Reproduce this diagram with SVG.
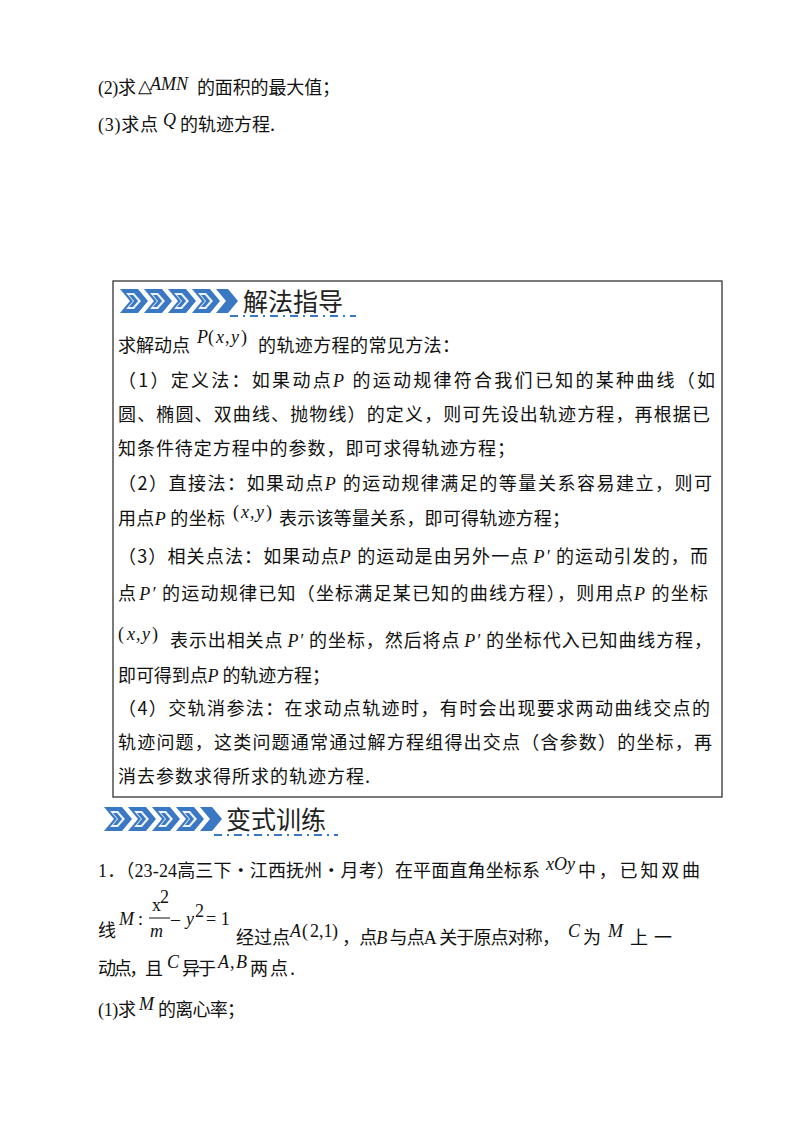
<svg xmlns="http://www.w3.org/2000/svg" width="800" height="1134" viewBox="0 0 800 1134">
<style>
.t{font-family:"Noto Sans CJK SC",sans-serif;font-size:18px;fill:#111}
.m{font-family:"Liberation Serif",serif;font-style:italic;font-size:18px;fill:#111}
.r{font-family:"Liberation Serif",serif;font-size:18px;fill:#111}
.h{font-family:"Noto Sans CJK SC",sans-serif;font-size:25px;fill:#222}
.ch{fill:#3a78c4}
.dash{stroke:#3a78c4;stroke-width:2;stroke-dasharray:8 5 2 5}
</style>
<defs>
<g id="chev">
<polygon class="ch" points="0,0 18,0 28,12 18,24 0,24 10,12"/>
<polygon fill="#fff" points="6,4 14,4 21,12 14,20 6,20 13,12" opacity="0.9"/>
<polygon class="ch" points="9,6 13,6 18,12 13,18 9,18 14,12"/>
</g>
<g id="banner">
<use href="#chev" x="0"/><use href="#chev" x="24"/><use href="#chev" x="48"/><use href="#chev" x="72"/>
<polygon class="ch" points="96,0 108,0 118,12 108,24 96,24 106,12"/>
</g>
</defs>
<rect width="800" height="1134" fill="#fff"/>

<text class="t" x="98" y="94" textLength="38"><tspan class="r">(2)</tspan>求</text>
<text class="r" x="138" y="92" font-size="10">△</text>
<text class="m" x="150" y="90">AMN</text>
<text class="t" x="197" y="94" textLength="143">的面积的最大值；</text>
<text class="t" x="98" y="131" textLength="60"><tspan class="r">(3)</tspan>求点</text>
<text class="m" x="163" y="126">Q</text>
<text class="t" x="180" y="131" textLength="95">的轨迹方程.</text>

<rect x="113" y="281" width="609" height="516" fill="none" stroke="#333" stroke-width="1.3"/>
<use href="#banner" x="120" y="289"/>
<text class="h" x="243" y="311">解法指导</text>
<line class="dash" x1="230" y1="316" x2="356" y2="316"/>

<text class="t" x="118" y="352" textLength="72">求解动点</text>
<text class="m" x="197" y="343">P</text><text class="r" x="208" y="343" font-size="21">(</text><text class="m" x="216" y="343">x</text><text class="r" x="225" y="343">,</text><text class="m" x="231" y="343">y</text><text class="r" x="241" y="343" font-size="21">)</text>
<text class="t" x="258" y="352" textLength="202">的轨迹方程的常见方法：</text>
<text class="t" x="118" y="387" textLength="597">（1）定义法：如果动点<tspan class="m">P</tspan> 的运动规律符合我们已知的某种曲线（如</text>
<text class="t" x="118" y="421" textLength="592">圆、椭圆、双曲线、抛物线）的定义，则可先设出轨迹方程，再根据已</text>
<text class="t" x="118" y="455" textLength="397">知条件待定方程中的参数，即可求得轨迹方程；</text>
<text class="t" x="118" y="490" textLength="594">（2）直接法：如果动点<tspan class="m">P</tspan> 的运动规律满足的等量关系容易建立，则可</text>
<text class="t" x="118" y="525" textLength="107">用点<tspan class="m">P</tspan> 的坐标</text>
<text class="r" x="233" y="518" font-size="21">(</text><text class="m" x="241" y="518">x</text><text class="r" x="250" y="518">,</text><text class="m" x="256" y="518">y</text><text class="r" x="266" y="518" font-size="21">)</text>
<text class="t" x="279" y="525" textLength="291">表示该等量关系，即可得轨迹方程；</text>
<text class="t" x="118" y="563" textLength="590">（3）相关点法：如果动点<tspan class="m">P</tspan> 的运动是由另外一点<tspan class="m" dx="4">P′</tspan> 的运动引发的，而</text>
<text class="t" x="118" y="600" textLength="590">点<tspan class="m" dx="2">P′</tspan> 的运动规律已知（坐标满足某已知的曲线方程），则用点<tspan class="m">P</tspan> 的坐标</text>
<text class="r" x="118" y="640" font-size="21">(</text><text class="m" x="127" y="640">x</text><text class="r" x="136" y="640">,</text><text class="m" x="142" y="640">y</text><text class="r" x="152" y="640" font-size="21">)</text>
<text class="t" x="170" y="647" textLength="542">表示出相关点<tspan class="m" dx="4">P′</tspan> 的坐标，然后将点<tspan class="m" dx="4">P′</tspan> 的坐标代入已知曲线方程，</text>
<text class="t" x="118" y="682" textLength="212">即可得到点<tspan class="m">P</tspan> 的轨迹方程；</text>
<text class="t" x="118" y="715" textLength="592">（4）交轨消参法：在求动点轨迹时，有时会出现要求两动曲线交点的</text>
<text class="t" x="118" y="749" textLength="594">轨迹问题，这类问题通常通过解方程组得出交点（含参数）的坐标，再</text>
<text class="t" x="118" y="783" textLength="252">消去参数求得所求的轨迹方程.</text>

<use href="#banner" x="104" y="807"/>
<text class="h" x="226" y="829">变式训练</text>
<line class="dash" x1="214" y1="835" x2="338" y2="835"/>

<text class="t" x="98" y="877" textLength="442"><tspan class="r">1</tspan>．（<tspan class="r">23-24</tspan>高三下·江西抚州·月考）在平面直角坐标系</text>
<text class="m" x="546" y="870">xOy</text>
<text class="t" x="578" y="877" textLength="122">中，已知双曲</text>
<text class="t" x="98" y="937">线</text>
<text class="m" x="119" y="925">M</text><text class="r" x="138" y="925">:</text>
<text class="r" x="152" y="911" font-size="15">x</text><text class="r" x="160" y="903" font-size="10">2</text>
<line x1="149" y1="918" x2="170" y2="918" stroke="#111" stroke-width="1"/>
<text class="m" x="150" y="937" font-size="15">m</text>
<text class="r" x="171" y="925">–</text><text class="m" x="186" y="925">y</text><text class="r" x="195" y="917" font-size="10">2</text><text class="r" x="206" y="925">= 1</text>
<text class="t" x="236" y="944" textLength="54">经过点</text>
<text class="m" x="290" y="937">A</text><text class="r" x="302" y="937" font-size="21">(</text><text class="r" x="310" y="937">2,1</text><text class="r" x="332" y="937" font-size="21">)</text>
<text class="t" x="342" y="944" textLength="218">，点<tspan class="m">B</tspan> 与点<tspan class="r">A</tspan> 关于原点对称，</text>
<text class="m" x="568" y="937">C</text>
<text class="t" x="583" y="944">为</text>
<text class="m" x="608" y="937">M</text>
<text class="t" x="630" y="944" letter-spacing="6">上一</text>
<text class="t" x="98" y="975" textLength="65">动点，且</text>
<text class="m" x="167" y="968">C</text>
<text class="t" x="182" y="975" textLength="34">异于</text>
<text class="m" x="218" y="968">A</text><text class="r" x="230" y="968">,</text><text class="m" x="236" y="968">B</text>
<text class="t" x="250" y="975" textLength="45">两点.</text>
<text class="t" x="98" y="1016" textLength="38"><tspan class="r">(1)</tspan>求</text>
<text class="m" x="139" y="1010">M</text>
<text class="t" x="158" y="1016" textLength="87">的离心率；</text>
</svg>
